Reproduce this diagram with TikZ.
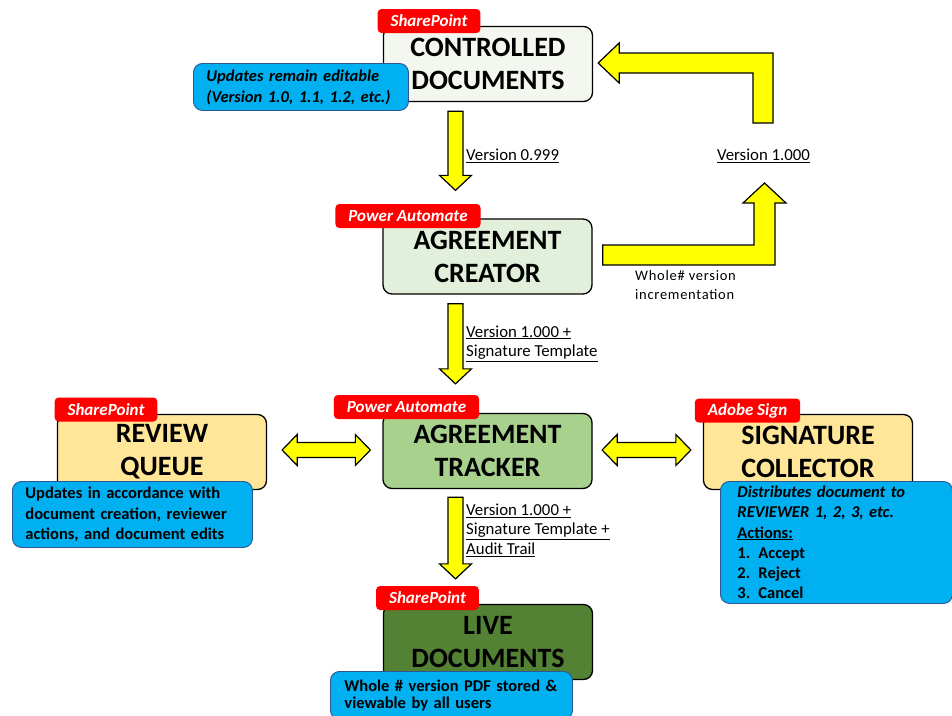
\documentclass[tikz,border=0pt]{standalone}
\usepackage{fontspec}
\setmainfont{Carlito}
\usepackage{tikz}
\usetikzlibrary{positioning,calc}

\definecolor{ctrlfill}{HTML}{F3F7EF}
\definecolor{creafill}{HTML}{E2EFDA}
\definecolor{trackfill}{HTML}{A9D18E}
\definecolor{queuefill}{HTML}{FFE699}
\definecolor{livefill}{HTML}{548235}
\definecolor{tagred}{HTML}{FF0000}
\definecolor{noteblue}{HTML}{00B0F0}
\definecolor{noteedge}{HTML}{2F5597}
\definecolor{arrowyellow}{HTML}{FFFF00}

\tikzset{
  stage/.style={draw=black, line width=1.3pt, rounded corners=9pt, minimum width=209pt,
    minimum height=75pt, align=center, font=\fontsize{28}{33}\selectfont\bfseries},
  tag/.style={fill=tagred, rounded corners=4pt, text=white, inner xsep=13pt, inner ysep=0pt,
    minimum height=24pt, font=\fontsize{17}{18}\selectfont\bfseries\itshape},
  note/.style={fill=noteblue, draw=noteedge, line width=0.9pt, rounded corners=9pt, anchor=north west,
    align=left, inner xsep=13pt, inner ysep=2pt},
  fatarrow/.style={fill=arrowyellow, draw=black, line width=1.2pt, line join=miter},
  verlabel/.style={anchor=west, align=left, inner sep=0pt, font=\fontsize{16.8}{19.5}\selectfont}
}

% fat arrow pointing down, from #1 to tip #2
\newcommand{\fatdown}[2]{%
  \draw[fatarrow] ($(#1)+(-7.5,0)$) -- ($(#2)+(-7.5,-15)$) -- ($(#2)+(-16,-15)$) -- (#2)
    -- ($(#2)+(16,-15)$) -- ($(#2)+(7.5,-15)$) -- ($(#1)+(7.5,0)$) -- cycle;}
% fat arrow with two heads, tips #1 (left) and #2 (right)
\newcommand{\fatboth}[2]{%
  \draw[fatarrow] (#1) -- ($(#1)+(15,-15.5)$) -- ($(#1)+(15,-7.5)$) -- ($(#2)+(-15,-7.5)$)
    -- ($(#2)+(-15,-15.5)$) -- (#2) -- ($(#2)+(-15,15.5)$) -- ($(#2)+(-15,7.5)$)
    -- ($(#1)+(15,7.5)$) -- ($(#1)+(15,15.5)$) -- cycle;}

\begin{document}
\begin{tikzpicture}[x=1pt, y=-1pt]
    \useasboundingbox (0,0) rectangle (952,715);

    % stages
    \node[stage, fill=ctrlfill] (ctrl) at (488,64) {CONTROLLED\\DOCUMENTS};
    \node[stage, fill=creafill] (creator) at (487.5,256.5) {AGREEMENT\\CREATOR};
    \node[stage, fill=trackfill] (tracker) at (487.5,451) {AGREEMENT\\TRACKER};
    \node[stage, fill=queuefill] (queue) at (162,452) {REVIEW\\QUEUE};
    \node[stage, fill=queuefill] (collector) at (808,452) {SIGNATURE\\COLLECTOR};
    \node[stage, fill=livefill] (live) at (488,642) {LIVE\\DOCUMENTS};

    % platform tags
    \node[tag] (ctrltag) at (429,21) {SharePoint};
    \node[tag] (creatag) at (408,216) {Power Automate};
    \node[tag] (tracktag) at (406.5,407) {Power Automate};
    \node[tag] (queuetag) at (106,409.5) {SharePoint};
    \node[tag] (colltag) at (747.5,410.5) {Adobe Sign};
    \node[tag] (livetag) at (427.5,598) {SharePoint};

    % notes
    \node[note, text width=189pt, minimum height=47pt,
      font=\fontsize{16.5}{21}\selectfont\bfseries\itshape] (ctrlnote) at (193,63)
      {Updates remain editable\\(Version 1.0, 1.1, 1.2, etc.)};
    \node[note, text width=214pt, minimum height=66pt,
      font=\fontsize{16.5}{20.5}\selectfont\bfseries] (queuenote) at (12,481)
      {Updates in accordance with\\document creation, reviewer\\actions, and document edits};
    \node[note, inner xsep=17pt, text width=198pt, minimum height=122pt,
      font=\fontsize{16.5}{20.2}\selectfont\bfseries] (collnote) at (720,481)
      {\textit{Distributes document to}\\\textit{REVIEWER 1, 2, 3, etc.}\\\underline{Actions:}\\
       \makebox[21pt][l]{1.}Accept\\\makebox[21pt][l]{2.}Reject\\\makebox[21pt][l]{3.}Cancel};
    \node[note, inner xsep=14pt, text width=214pt, minimum height=48pt,
      font=\fontsize{16.5}{17.5}\selectfont\bfseries] (livenote) at (330,671)
      {Whole \# version PDF stored \&\\viewable by all users};

    % down arrows
    \coordinate (d1s) at ($(ctrl.south)+(-32.5,9)$);
    \coordinate (d1e) at ($(creator.north)+(-32,-28)$);
    \coordinate (d2s) at ($(creator.south)+(-32,9)$);
    \coordinate (d2e) at ($(tracker.north)+(-32,-29)$);
    \coordinate (d3s) at ($(tracker.south)+(-32,8)$);
    \coordinate (d3e) at ($(live.north)+(-32.5,-25)$);
    \fatdown{d1s}{d1e}
    \fatdown{d2s}{d2e}
    \fatdown{d3s}{d3e}

    % side arrows
    \coordinate (l1) at ($(queue.east)+(15,-2)$);
    \coordinate (r1) at ($(tracker.west)+(-12,-1)$);
    \coordinate (l2) at ($(tracker.east)+(9.5,-1)$);
    \coordinate (r2) at ($(collector.west)+(-12,-2)$);
    \fatboth{l1}{r1}
    \fatboth{l2}{r2}

    % loop back to controlled documents
    \coordinate (up) at (764.5,183);
    \draw[fatarrow] ($(creator.east)+(10,-11.5)$) -- ($(up)+(-10.5,62)$) -- ($(up)+(-10.5,20)$)
        -- ($(up)+(-21.5,20)$) -- (up) -- ($(up)+(21.5,20)$) -- ($(up)+(10.5,20)$)
        -- ($(up)+(10.5,82)$) -- ($(creator.east)+(10,8.5)$) -- cycle;
    \coordinate (tip) at ($(ctrl.east)+(5,-1)$);
    \coordinate (back) at (763,123);
    \draw[fatarrow] (tip) -- ($(tip)+(21,-20)$) -- ($(tip)+(21,-10)$) -- ($(back)+(10,-70)$)
        -- ($(back)+(10,0)$) -- ($(back)+(-10,0)$) -- ($(back)+(-10,-50)$)
        -- ($(tip)+(21,10)$) -- ($(tip)+(21,20)$) -- cycle;

    % labels
    \node[verlabel] (v0999) at (466,156) {\underline{Version 0.999}};
    \node[verlabel] (v1000sig) at (466,343.5) {\underline{Version 1.000 +}\\\underline{Signature Template}};
    \node[verlabel] (v1000audit) at (466,530)
        {\underline{Version 1.000 +}\\\underline{Signature Template +}\\\underline{Audit Trail}};
    \node[verlabel, anchor=center] (v1000) at (763.5,156) {\underline{Version 1.000}};
    \node[verlabel, font=\fontsize{14.5}{19}\selectfont\addfontfeatures{LetterSpace=5}] (whole) at (635,285.5)
        {Whole\# version\\incrementation};
\end{tikzpicture}
\end{document}
